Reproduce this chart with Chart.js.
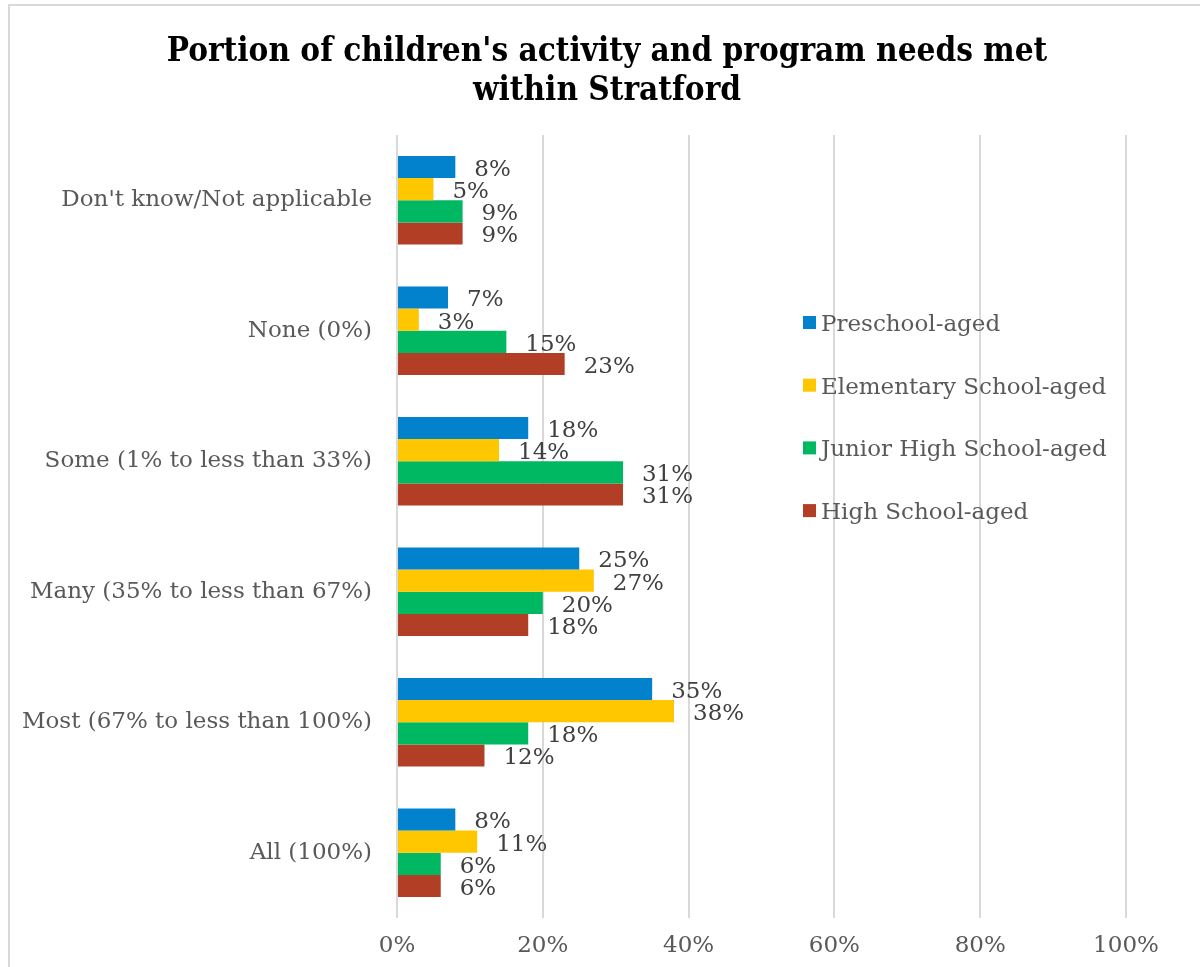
<!DOCTYPE html>
<html>
<head>
<meta charset="utf-8">
<script src="https://cdn.jsdelivr.net/npm/chart.js@4/dist/chart.umd.min.js"></script>
<style>
  html, body { margin: 0; padding: 0; background: #fff; }
  #wrap { width: 1200px; height: 967px; }
</style>
</head>
<body>
<div id="wrap"><canvas id="chart" width="1200" height="967"></canvas></div>
<script>
const categories = [
  "Don't know/Not applicable",
  'None (0%)',
  'Some (1% to less than 33%)',
  'Many (35% to less than 67%)',
  'Most (67% to less than 100%)',
  'All (100%)'
];

const preschool  = [8, 7, 18, 25, 35, 8];
const elementary = [5, 3, 14, 27, 38, 11];
const juniorHigh = [9, 15, 31, 20, 18, 6];
const highSchool = [9, 23, 31, 18, 12, 6];

const seriesNames  = ['Preschool-aged', 'Elementary School-aged', 'Junior High School-aged', 'High School-aged'];
const seriesColors = ['#0282cc', '#ffc700', '#00b862', '#b33e26'];

const xTicks = [0, 20, 40, 60, 80, 100];

const titleLines = ["Portion of children's activity and program needs met", 'within Stratford'];

const FONT = "'DejaVu Serif', serif";
const GRID = '#d9d9d9';

// thin frame around the whole chart
const framePlugin = {
  id: 'frame',
  beforeDraw(chart) {
    const c = chart.ctx;
    c.save();
    c.strokeStyle = GRID;
    c.lineWidth = 2;
    c.beginPath();
    c.moveTo(9, 967);
    c.lineTo(9, 5);
    c.lineTo(1200, 5);
    c.stroke();
    c.restore();
  }
};

// two-line title, centred over the page rather than the plot
const titlePlugin = {
  id: 'pageTitle',
  afterDraw(chart) {
    const c = chart.ctx;
    c.save();
    c.font = "bold 33px 'DejaVu Serif Condensed', 'DejaVu Serif', serif";
    c.fillStyle = '#000';
    c.textAlign = 'center';
    c.textBaseline = 'middle';
    titleLines.forEach((t, i) => c.fillText(t, 607, 52 + i * 39));
    c.restore();
  }
};

// value labels just past the end of each bar
const valueLabels = {
  id: 'valueLabels',
  afterDatasetsDraw(chart) {
    const c = chart.ctx;
    c.save();
    c.font = '23px ' + FONT;
    c.fillStyle = '#404040';
    c.textAlign = 'left';
    c.textBaseline = 'middle';
    chart.data.datasets.forEach((ds, i) => {
      chart.getDatasetMeta(i).data.forEach((bar, j) => {
        c.fillText(ds.data[j] + '%', bar.x + 19, bar.y + 3);
      });
    });
    c.restore();
  }
};

// legend sits inside the plot on the right
const sideLegend = {
  id: 'sideLegend',
  afterDraw(chart) {
    const c = chart.ctx;
    const x = 803, y0 = 322, step = 62.7;
    c.save();
    c.font = '23px ' + FONT;
    c.textAlign = 'left';
    c.textBaseline = 'middle';
    chart.data.datasets.forEach((ds, i) => {
      const y = y0 + i * step;
      c.fillStyle = ds.backgroundColor;
      c.fillRect(x, y - 6, 13, 13);
      c.fillStyle = '#595959';
      c.fillText(ds.label, x + 18, y + 3);
    });
    c.restore();
  }
};

const datasets = [preschool, elementary, juniorHigh, highSchool].map((vals, i) => ({
  label: seriesNames[i],
  data: vals,
  backgroundColor: seriesColors[i],
  borderWidth: 0,
  barPercentage: 1,
  categoryPercentage: 0.68
}));

new Chart(document.getElementById('chart'), {
  type: 'bar',
  data: { labels: categories, datasets: datasets },
  options: {
    indexAxis: 'y',
    responsive: false,
    animation: false,
    layout: { padding: { left: 0, right: 74, top: 135, bottom: 0 } },
    plugins: {
      legend: { display: false },
      tooltip: { enabled: false },
      title: { display: false }
    },
    scales: {
      x: {
        min: 0,
        max: 100,
        afterBuildTicks(scale) {
          scale.ticks = xTicks.map(v => ({ value: v }));
        },
        afterFit(scale) { scale.height = 49; },
        grid: { color: GRID, lineWidth: 2, drawTicks: false },
        border: { display: false },
        ticks: {
          color: '#595959',
          font: { family: FONT, size: 23 },
          padding: 14,
          callback: v => v + '%'
        }
      },
      y: {
        afterFit(scale) { scale.width = 397; },
        grid: { display: false },
        border: { display: false },
        ticks: {
          color: '#595959',
          font: { family: FONT, size: 23 },
          padding: 17
        }
      }
    }
  },
  plugins: [framePlugin, titlePlugin, valueLabels, sideLegend]
});
</script>
</body>
</html>
